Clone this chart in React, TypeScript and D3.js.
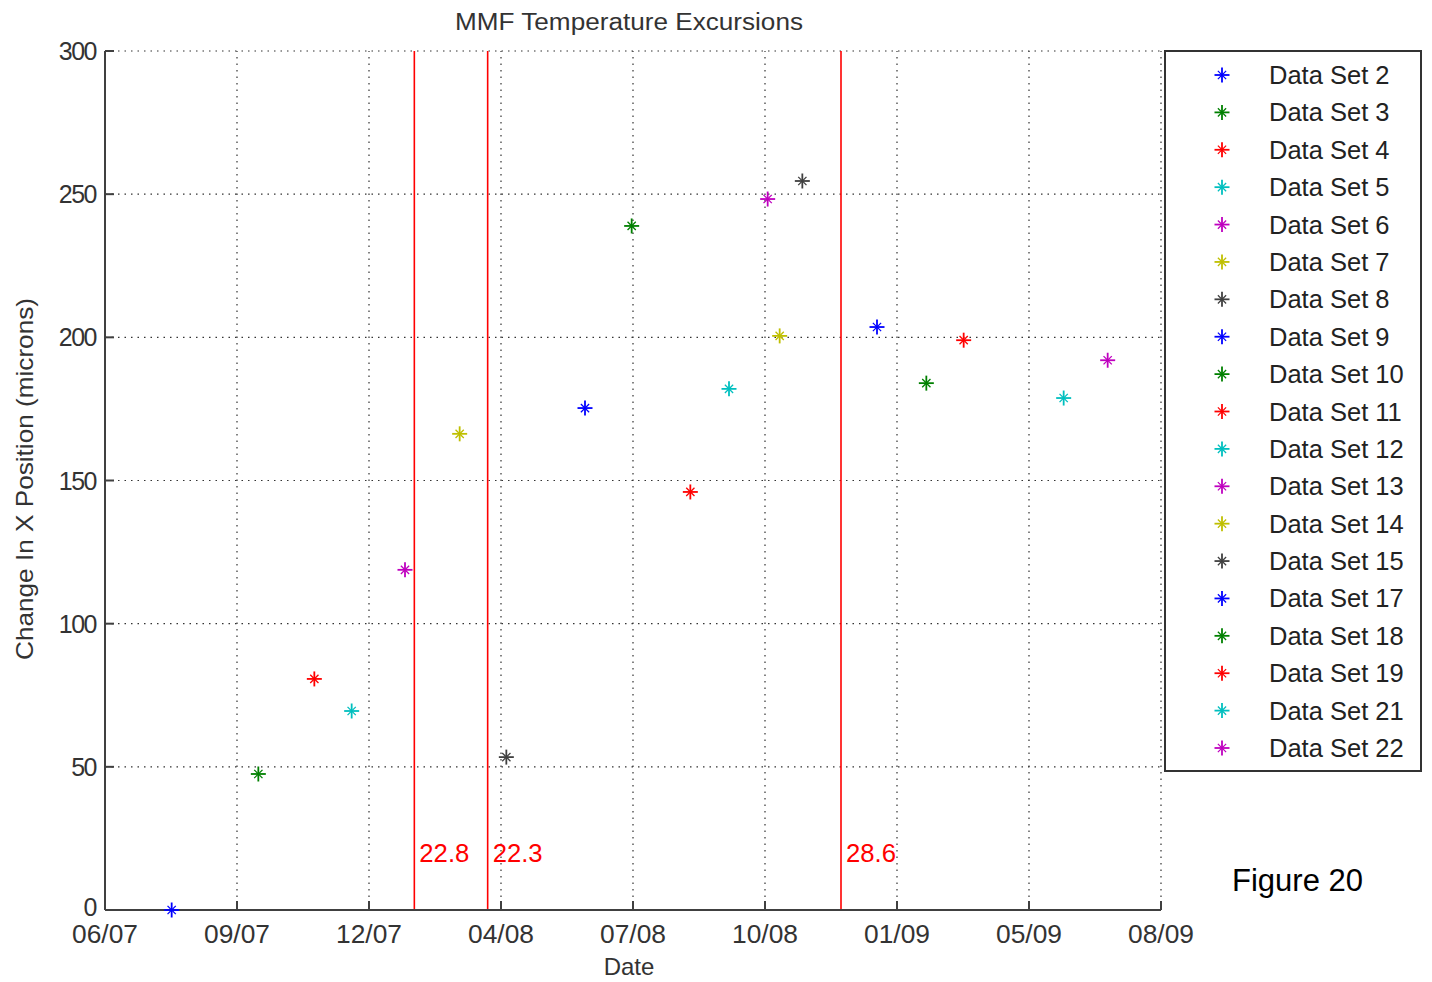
import React from "react";
import * as d3 from "d3";

const seriesNames = ["Data Set 2","Data Set 3","Data Set 4","Data Set 5","Data Set 6","Data Set 7","Data Set 8","Data Set 9","Data Set 10","Data Set 11","Data Set 12","Data Set 13","Data Set 14","Data Set 15","Data Set 17","Data Set 18","Data Set 19","Data Set 21","Data Set 22"];
// days since 06/07 (axis ticks every 99 days)
const seriesDays = [50,115,157,185,225,266,301,360,395,439,468,497,506,523,579,616,644,719,752];
const seriesValues = [0,47.5,80.7,69.5,118.8,166.3,53.4,175.3,238.9,146,182,248.3,200.5,254.6,203.6,184,199,178.8,192];
const seriesColors = ["#0000ff","#008000","#ff0000","#00bfbf","#bf00bf","#bfbf00","#404040"];

const tickDays = [0,99,198,297,396,495,594,693,792];
const tickLabels = ["06/07","09/07","12/07","04/08","07/08","10/08","01/09","05/09","08/09"];
const yTicks = [0,50,100,150,200,250,300];

const eventDays = [232,287,552];
const eventLabels = ["22.8","22.3","28.6"];

const FONT = "'Liberation Sans', Arial, sans-serif";

function Star({ x, y, color, s = 7.5 }: { x: number; y: number; color: string; s?: number }) {
  const d = s * 0.55;
  return (
    <g stroke={color}>
      <line x1={x - s} y1={y} x2={x + s} y2={y} strokeWidth={1.8} />
      <line x1={x} y1={y - s} x2={x} y2={y + s} strokeWidth={1.8} />
      <line x1={x - d} y1={y - d} x2={x + d} y2={y + d} strokeWidth={1.3} />
      <line x1={x - d} y1={y + d} x2={x + d} y2={y - d} strokeWidth={1.3} />
    </g>
  );
}

export default function App() {
  const x = d3.scaleLinear().domain([0, 792]).range([105, 1161]);
  const y = d3.scaleLinear().domain([0, 300]).range([910, 51]);
  const axisColor = "#404040";
  const gridDash = "1.5,5";
  const legendX = 1165, legendY = 51, legendW = 256, legendH = 720;
  const rowY = d3.scaleLinear().domain([0, seriesNames.length - 1]).range([75, 748]);

  return (
    <svg width={1432} height={982} style={{ position: "absolute", left: 0, top: 0 }} fontFamily={FONT}>
      <rect width={1432} height={982} fill="#fff" />
      {/* grid */}
      {tickDays.slice(1).map((t) => (
        <line key={"gx" + t} x1={x(t)} x2={x(t)} y1={y(0)} y2={y(300)} stroke="#333" strokeWidth={1.2} strokeDasharray={gridDash} />
      ))}
      {yTicks.slice(1).map((t) => (
        <line key={"gy" + t} x1={x(0)} x2={x(792)} y1={y(t)} y2={y(t)} stroke="#333" strokeWidth={1.2} strokeDasharray={gridDash} />
      ))}
      {/* event lines */}
      {eventDays.map((d, i) => (
        <g key={"ev" + i}>
          <line x1={x(d)} x2={x(d)} y1={y(0)} y2={y(300)} stroke="#ff0000" strokeWidth={1.6} />
          <text x={x(d) + 5} y={862} fontSize={25} fill="#ff0000" textLength={eventLabels[i].length * 12.5} lengthAdjust="spacingAndGlyphs">{eventLabels[i]}</text>
        </g>
      ))}
      {/* axes */}
      <line x1={x(0)} x2={x(792)} y1={y(0)} y2={y(0)} stroke={axisColor} strokeWidth={2} />
      <line x1={x(0)} x2={x(0)} y1={y(0)} y2={y(300)} stroke={axisColor} strokeWidth={2} />
      {tickDays.map((t, i) => (
        <g key={"xt" + t}>
          <line x1={x(t)} x2={x(t)} y1={y(0)} y2={y(0) - 9} stroke={axisColor} strokeWidth={2} />
          <text x={x(t)} y={943} textAnchor="middle" fontSize={25} fill="#333" textLength={66} lengthAdjust="spacingAndGlyphs">{tickLabels[i]}</text>
        </g>
      ))}
      {yTicks.map((t) => (
        <g key={"yt" + t}>
          <line x1={x(0)} x2={x(0) + 9} y1={y(t)} y2={y(t)} stroke={axisColor} strokeWidth={2} />
          <text x={x(0) - 9} y={y(t) + (t === 0 ? 6 : 9)} textAnchor="end" fontSize={25} fill="#333" letterSpacing={-1.5}>{t}</text>
        </g>
      ))}
      {/* points */}
      {seriesNames.map((n, i) => (
        <Star key={n} x={x(seriesDays[i])} y={y(seriesValues[i])} color={seriesColors[i % seriesColors.length]} />
      ))}
      {/* labels */}
      <text x={629} y={30} textAnchor="middle" fontSize={23} fill="#333" textLength={348} lengthAdjust="spacingAndGlyphs">MMF Temperature Excursions</text>
      <text x={629} y={975} textAnchor="middle" fontSize={24} fill="#333">Date</text>
      <text transform={`translate(33,479) rotate(-90)`} textAnchor="middle" fontSize={24} fill="#333" textLength={362} lengthAdjust="spacingAndGlyphs">Change In X Position (microns)</text>
      {/* legend */}
      <rect x={legendX} y={legendY} width={legendW} height={legendH} fill="#fff" stroke="#333" strokeWidth={2} />
      {seriesNames.map((n, i) => (
        <g key={"lg" + n}>
          <Star x={1222} y={rowY(i)} color={seriesColors[i % seriesColors.length]} />
          <text x={1269} y={rowY(i) + 9} fontSize={25.5} fill="#222">{n}</text>
        </g>
      ))}
      <text x={1232} y={891} fontSize={31} fill="#000">Figure 20</text>
    </svg>
  );
}
